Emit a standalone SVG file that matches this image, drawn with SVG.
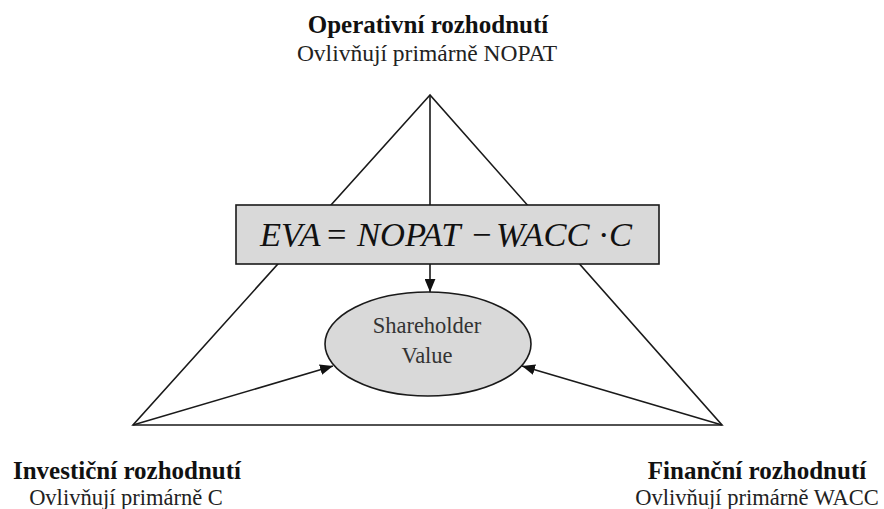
<svg xmlns="http://www.w3.org/2000/svg" width="884" height="509" viewBox="0 0 884 509">
<defs>
<marker id="arr" viewBox="0 0 12 10" refX="12" refY="5" markerWidth="13" markerHeight="11" markerUnits="userSpaceOnUse" orient="auto">
<path d="M0,0 L12,5 L0,10 z" fill="#111"/>
</marker>
<style>
.ln{stroke:#1a1a1a;stroke-width:1.6;fill:none}
.hd{font-family:"Liberation Serif",serif;font-weight:bold;font-size:25px;fill:#111;text-anchor:middle}
.sb{font-family:"Liberation Serif",serif;font-size:22.5px;fill:#222;text-anchor:middle}
.eq{font-family:"Liberation Serif",serif;font-style:italic;font-size:34.5px;fill:#111}
.op{font-family:"Liberation Serif",serif;font-size:34.5px;fill:#111}
.sh{font-family:"Liberation Serif",serif;font-size:22.5px;fill:#333;text-anchor:middle}
</style>
</defs>
<rect width="884" height="509" fill="#fff"/>
<g id="connectors">
<path class="ln" d="M430,95 L133,425 L722,425 Z"/>
<line class="ln" x1="430" y1="95" x2="430" y2="292" marker-end="url(#arr)"/>
<line class="ln" x1="133" y1="425" x2="333" y2="366" marker-end="url(#arr)"/>
<line class="ln" x1="722" y1="425" x2="522" y2="366" marker-end="url(#arr)"/>
</g>
<g id="operativni">
<text class="hd" x="428" y="33">Operativní rozhodnutí</text>
<text class="sb" x="427" y="61" style="font-size:23.5px">Ovlivňují primárně NOPAT</text>
</g>
<g id="eva">
<rect x="236" y="205" width="423" height="59" fill="#d9d9d9" stroke="#1a1a1a" stroke-width="1.6"/>
<text class="eq" x="260" y="246">EVA</text>
<text class="op" x="327" y="246">=</text>
<text class="eq" x="357" y="246">NOPAT</text>
<text class="op" x="472" y="246">−</text>
<text class="eq" x="496" y="246">WACC</text>
<text class="op" x="598" y="246">·</text>
<text class="eq" x="609" y="246">C</text>
</g>
<g id="shareholder">
<ellipse cx="428" cy="344" rx="103" ry="52" fill="#d9d9d9" stroke="#1a1a1a" stroke-width="1.6"/>
<text class="sh" x="427" y="333">Shareholder</text>
<text class="sh" x="427" y="363">Value</text>
</g>
<g id="investicni">
<text class="hd" x="127" y="479">Investiční rozhodnutí</text>
<text class="sb" x="126" y="505">Ovlivňují primárně C</text>
</g>
<g id="financni">
<text class="hd" x="757" y="479">Finanční rozhodnutí</text>
<text class="sb" x="757" y="505">Ovlivňují primárně WACC</text>
</g>
</svg>
